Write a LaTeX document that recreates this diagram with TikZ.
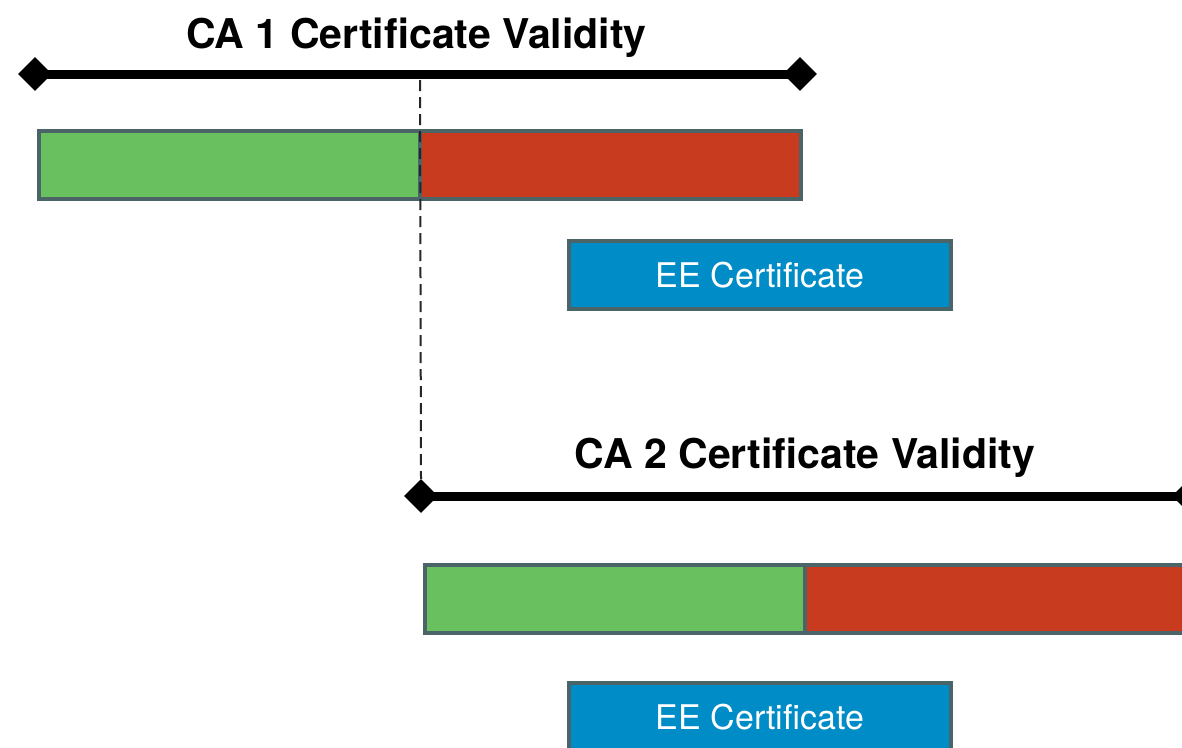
\documentclass[tikz,border=0pt]{standalone}
\usepackage{fontspec}
\setmainfont{TeX Gyre Heros}
\usetikzlibrary{shapes.geometric}
\definecolor{validgreen}{HTML}{68C15E}
\definecolor{expiredred}{HTML}{C93B1E}
\definecolor{eeblue}{HTML}{008CC6}
\definecolor{slate}{HTML}{4B6468}
\tikzset{
  segment/.style={draw=slate, line width=4, inner sep=0, minimum height=68},
  okpart/.style={segment, fill=validgreen, minimum width=381},
  endpart/.style={segment, fill=expiredred, minimum width=381},
  eebox/.style={segment, fill=eeblue, minimum width=382, text=white,
    font=\fontsize{34}{40}\selectfont},
  tick/.style={diamond, fill=black, inner sep=0, minimum width=34, minimum height=34},
  span/.style={line width=9, black},
  heading/.style={anchor=base, font=\fontsize{41}{48}\bfseries\selectfont},
  guide/.style={line width=2, black!85, dash pattern=on 11 off 6}
}
\begin{document}
\begin{tikzpicture}[x=1pt, y=-1pt]
\useasboundingbox (0,0) rectangle (1182,747);
\clip (0,0) rectangle (1182,747);

% CA 1 validity span
\node[heading] (t1) at (416.5,48) {CA 1 Certificate Validity};
\node[tick] (s1) at (35,74) {};
\node[tick] (e1) at (800,74) {};
\draw[span] (s1.center) -- (e1.center);

% CA 1 certificate lifetime
\node[okpart] (g1) at (229.5,165) {};
\node[endpart] (r1) at (610.5,165) {};
\node[eebox] (ee1) at (760,275) {EE Certificate};

% CA 2 validity span
\node[heading] (t2) at (805,468) {CA 2 Certificate Validity};
\node[tick] (s2) at (421,496) {};
\node[tick] (e2) at (1189,496) {};
\draw[span] (s2.center) -- (e2.center);

% CA 2 certificate lifetime
\node[okpart] (g2) at (615.5,599) {};
\node[endpart] (r2) at (995.5,599) {};
\node[eebox] (ee2) at (760,717) {EE Certificate};

% rollover marker
\coordinate (m1) at (420,80);
\draw[guide] (m1) -- (s2.north);
\end{tikzpicture}
\end{document}
